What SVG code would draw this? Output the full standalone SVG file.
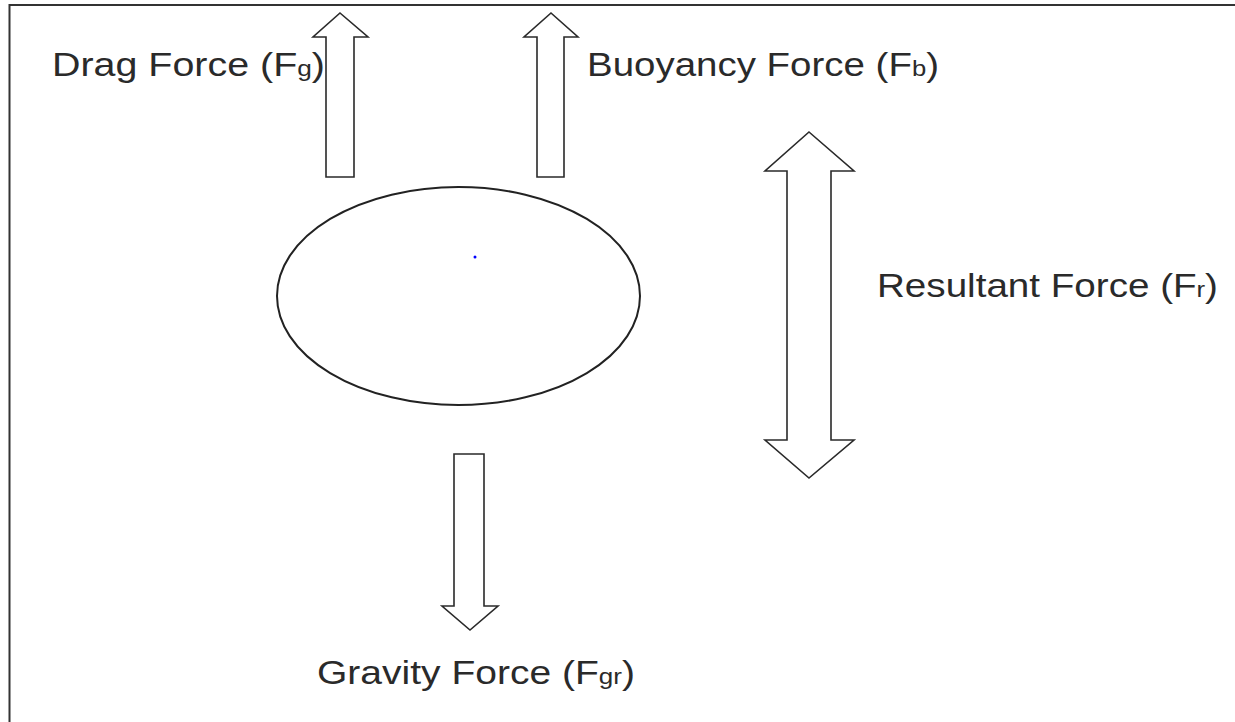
<svg xmlns="http://www.w3.org/2000/svg" width="1235" height="722" viewBox="0 0 1235 722">
<style>
.arrow{fill:#fff;stroke:#2a2a2a;stroke-width:1.6;stroke-linejoin:miter}
.lbl{font-family:"Liberation Sans",Arial,sans-serif;font-size:33px;fill:#2a2a2a}
.sub{font-size:22px}
</style>
<rect width="1235" height="722" fill="#fff"/>
<g id="frame">
<line x1="9.5" y1="5" x2="1235" y2="5" stroke="#333" stroke-width="2"/>
<line x1="9.5" y1="4" x2="9.5" y2="722" stroke="#333" stroke-width="2"/>
</g>
<g id="body">
<ellipse cx="458.5" cy="296" rx="181.5" ry="109" fill="#fff" stroke="#222" stroke-width="2"/>
<circle cx="475" cy="257" r="1.5" fill="#0000ff"/>
</g>
<g id="connectors">
<g id="drag-arrow"><polygon class="arrow" points="340,13 368,37 354,37 354,177 326,177 326,37 313,37"/></g>
<g id="buoyancy-arrow"><polygon class="arrow" points="551,13 578,37 564,37 564,177 537,177 537,37 524,37"/></g>
<g id="gravity-arrow"><polygon class="arrow" points="454,454 484,454 484,606 498,606 470,630 442,606 454,606"/></g>
<g id="resultant-arrow"><polygon class="arrow" points="809,132 854,171 831,171 831,440 854,440 809,478 765,440 787,440 787,171 765,171"/></g>
</g>
<g id="label-drag"><text class="lbl" x="52" y="76" textLength="273" lengthAdjust="spacingAndGlyphs">Drag Force (F<tspan class="sub">g</tspan>)</text></g>
<g id="label-buoyancy"><text class="lbl" x="587" y="76" textLength="352" lengthAdjust="spacingAndGlyphs">Buoyancy Force (F<tspan class="sub">b</tspan>)</text></g>
<g id="label-resultant"><text class="lbl" x="877" y="297" textLength="341" lengthAdjust="spacingAndGlyphs">Resultant Force (F<tspan class="sub">r</tspan>)</text></g>
<g id="label-gravity"><text class="lbl" x="317" y="684" textLength="318" lengthAdjust="spacingAndGlyphs">Gravity Force (F<tspan class="sub">gr</tspan>)</text></g>
</svg>
